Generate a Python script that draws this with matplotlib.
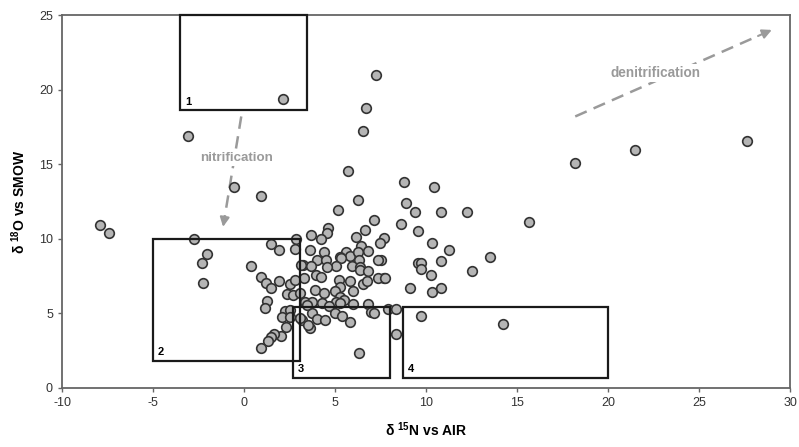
import matplotlib
matplotlib.use('Agg')
import matplotlib.pyplot as plt
from matplotlib.patches import Rectangle

plt.rcParams['font.family'] = ['Liberation Sans', 'DejaVu Sans']
plt.rcParams['mathtext.fontset'] = 'custom'
plt.rcParams['mathtext.rm'] = 'Liberation Sans'
plt.rcParams['mathtext.bf'] = 'Liberation Sans:bold'
plt.rcParams['axes.unicode_minus'] = False

# d15N vs AIR, d18O vs SMOW
n15 = [-7.9, -7.4, 2.15, -3.1, -0.55, 0.95, 7.25, 6.7, 6.55, 5.7,
       6.25, 5.15, 7.15, 8.8, 10.45, 8.9, 9.4, 10.8, 12.25, 15.65,
       8.65, 9.55, 18.2, 21.5, 27.65, 7.7, 10.35, 11.25, 13.5, 7.5,
       9.55, 9.75, 10.85, 9.7, 10.3, 12.55, 7.7, 9.1, 10.35, 10.8,
       7.9, 8.35, 9.7, 14.25, 8.35, 6.65, 3.7, 4.6, 4.55, 4.25,
       6.15, 7.45, 3.6, 4.4, 6.45, 6.8, 5.6, 5.8, 6.25, 6.3,
       7.35, 5.25, 5.35, 3.25, 4.0, 4.5, 5.05, 5.95, 6.4, 3.7,
       4.55, 6.4, 6.8, 7.35, 7.75, 3.3, 3.95, 4.25, 5.2, 5.8,
       6.55, 6.75, 5.25, 3.9, 4.4, 5.0, 5.25, 6.0, 5.5, 6.0,
       6.8, 7.0, 7.15, 6.3, 3.35, 3.75, 4.3, 5.05, 5.3, 4.65,
       3.75, 4.0, 4.45, 5.0, 5.4, 5.8, 3.2, 3.6, 3.45, -2.3,
       -2.25, 0.4, 0.95, 1.2, 1.5, 1.95, 2.55, 2.8, 3.15, 1.25,
       1.15, 2.35, 2.7, 3.1, 2.25, 2.55, 2.1, 2.55, 3.05, 2.3,
       2.05, 1.65, 1.5, 1.3, 0.95, 3.5, -2.75, -2.05, 1.5, 1.95,
       2.85, 2.8]
o18 = [10.9, 10.4, 19.4, 16.9, 13.5, 12.9, 21.0, 18.8, 17.2, 14.55,
       12.6, 11.95, 11.25, 13.8, 13.5, 12.4, 11.8, 11.8, 11.8, 11.1,
       11.0, 10.5, 15.1, 15.95, 16.55, 10.05, 9.7, 9.25, 8.8, 8.6,
       8.4, 8.35, 8.5, 7.95, 7.6, 7.85, 7.35, 6.7, 6.45, 6.7,
       5.3, 5.3, 4.85, 4.3, 3.6, 10.6, 10.25, 10.7, 10.4, 10.0,
       10.15, 9.7, 9.25, 9.1, 9.55, 9.2, 9.1, 8.85, 9.1, 8.6,
       8.6, 8.8, 8.7, 8.25, 8.55, 8.55, 8.15, 8.2, 8.1, 8.2,
       8.1, 7.9, 7.85, 7.35, 7.35, 7.4, 7.6, 7.45, 7.25, 7.15,
       7.0, 7.15, 6.75, 6.6, 6.4, 6.5, 6.1, 6.5, 5.9, 5.6,
       5.6, 5.1, 5.0, 2.35, 5.75, 5.75, 5.7, 5.75, 5.7, 5.5,
       5.05, 4.6, 4.55, 5.0, 4.8, 4.4, 4.55, 4.0, 5.55, 8.4,
       7.05, 8.2, 7.45, 7.05, 6.7, 7.15, 7.0, 7.25, 8.25, 5.85,
       5.35, 6.3, 6.2, 6.4, 5.15, 5.25, 4.75, 4.75, 4.7, 4.1,
       3.5, 3.6, 3.4, 3.15, 2.7, 4.2, 10.0, 9.0, 9.65, 9.25,
       10.0, 9.3]

# boxes: label, x0, x1, y0, y1
box_labels = ['1', '2', '3', '4']
box_x0 = [-3.5, -5.0, 2.7, 8.75]
box_x1 = [3.45, 3.1, 8.0, 20.0]
box_y0 = [18.6, 1.8, 0.7, 0.7]
box_y1 = [25.0, 10.0, 5.4, 5.4]

fig = plt.figure(figsize=(7.99, 4.47), dpi=100)
ax = fig.add_axes([62 / 799, 59 / 447, 728 / 799, 373 / 447])

ax.scatter(n15, o18, s=48, facecolor='#b5b5b5', edgecolor='#333333',
           linewidth=1.2, zorder=3)

for lab, x0, x1, y0, y1 in zip(box_labels, box_x0, box_x1, box_y0, box_y1):
    ax.add_patch(Rectangle((x0, y0), x1 - x0, y1 - y0, fill=False,
                           edgecolor='#1a1a1a', linewidth=1.6, zorder=4,
                           clip_on=False))
    ax.text(x0 + 0.25, y0 + 0.25, lab, fontsize=8, fontweight='bold',
            ha='left', va='bottom', zorder=5)

grey = '#9a9a9a'


def dashed_arrow(start, end, label, text_xy, size):
    fx = start[0] + 0.93 * (end[0] - start[0])
    fy = start[1] + 0.93 * (end[1] - start[1])
    ax.plot([start[0], fx], [start[1], fy], color=grey, lw=1.8,
            dashes=(5, 3), zorder=2)
    ax.annotate('', xy=end, xytext=(fx, fy),
                arrowprops=dict(arrowstyle='-|>', color=grey, lw=1.5,
                                mutation_scale=14, shrinkA=0, shrinkB=0),
                zorder=2)
    ax.text(text_xy[0], text_xy[1], label, color=grey, fontsize=size,
            fontweight='bold', ha='center', va='center', zorder=3,
            bbox=dict(facecolor='white', edgecolor='none', pad=1.5))


dashed_arrow((-0.15, 18.2), (-1.15, 10.8), 'nitrification', (-0.4, 15.4), 9.6)
dashed_arrow((18.2, 18.2), (29.0, 24.0), 'denitrification', (22.6, 21.1), 9.8)

ax.set_xlim(-10, 30)
ax.set_ylim(0, 25)
ax.set_xticks(range(-10, 31, 5))
ax.set_yticks(range(0, 26, 5))
ax.tick_params(labelsize=9, labelcolor='#333333', color='#666666',
               length=3, width=1)
for sp in ax.spines.values():
    sp.set_color('#666666')
    sp.set_linewidth(1.3)

ax.set_xlabel('δ $^{\\mathbf{15}}$N vs AIR', fontsize=10,
              fontweight='bold', labelpad=8)
ax.set_ylabel('δ $^{\\mathbf{18}}$O vs SMOW', fontsize=10,
              fontweight='bold', labelpad=8)

fig.savefig('out.png', dpi=100)
